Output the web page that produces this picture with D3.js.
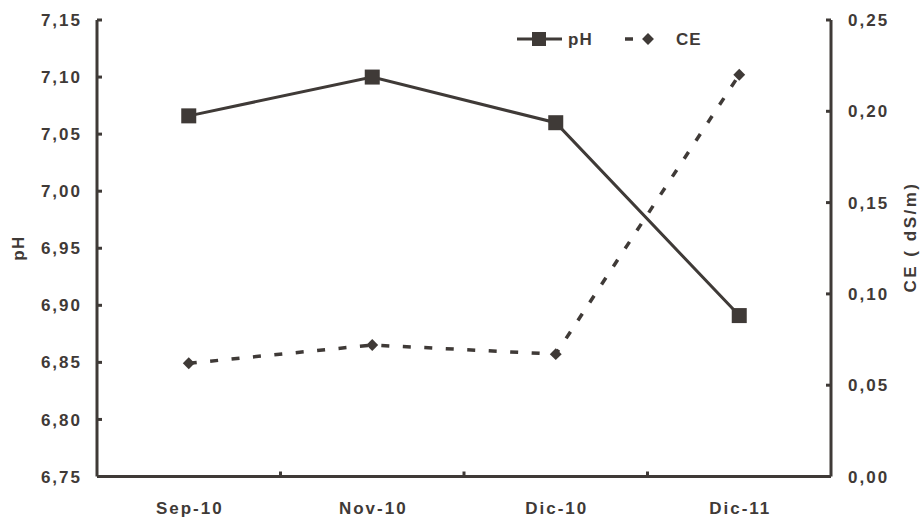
<!DOCTYPE html>
<html><head><meta charset="utf-8">
<script src="https://cdn.jsdelivr.net/npm/d3@7"></script>
<style>
body{margin:0;background:#fff;}
text{font-family:"Liberation Sans",Arial,sans-serif;font-weight:bold;fill:#3f3a37;}
</style></head><body>
<svg id="c" width="922" height="519"></svg>
<script>
const categories = ["Sep-10","Nov-10","Dic-10","Dic-11"];
const phValues = [7.066, 7.10, 7.060, 6.891];
const ceValues = [0.062, 0.072, 0.067, 0.220];
const phTicks = [6.75,6.80,6.85,6.90,6.95,7.00,7.05,7.10,7.15];
const ceTicks = [0,0.05,0.10,0.15,0.20,0.25];

const col = "#3f3a37";
const svg = d3.select("#c");
const L = 97, R = 831, T = 20, B = 476.5;
const x = d3.scaleBand().domain(categories).range([L,R]);
const yL = d3.scaleLinear().domain([6.75,7.15]).range([B,T]);
const yR = d3.scaleLinear().domain([0,0.25]).range([B,T]);
const fmt2 = d => d.toFixed(2).replace(".",",");

// left axis
const gl = svg.append("g").attr("transform",`translate(${L},0)`);
gl.append("line").attr("y1",T).attr("y2",B).attr("stroke",col).attr("stroke-width",3);
gl.selectAll("line.t").data(phTicks).join("line").attr("class","t")
  .attr("x1",0).attr("x2",5).attr("y1",d=>yL(d)).attr("y2",d=>yL(d)).attr("stroke",col).attr("stroke-width",3);
gl.selectAll("text").data(phTicks).join("text")
  .attr("x",-15).attr("y",d=>yL(d)).attr("dy","0.36em").attr("text-anchor","end")
  .style("font-size","17px").style("letter-spacing","2px").text(fmt2);

// right axis
const gr = svg.append("g").attr("transform",`translate(${R},0)`);
gr.append("line").attr("y1",T).attr("y2",B).attr("stroke",col).attr("stroke-width",3);
gr.selectAll("line.t").data(ceTicks).join("line").attr("class","t")
  .attr("x1",0).attr("x2",-5).attr("y1",d=>yR(d)).attr("y2",d=>yR(d)).attr("stroke",col).attr("stroke-width",3);
gr.selectAll("text").data(ceTicks).join("text")
  .attr("x",17).attr("y",d=>yR(d)).attr("dy","0.36em").attr("text-anchor","start")
  .style("font-size","17px").style("letter-spacing","2px").text(fmt2);

// bottom axis
const gb = svg.append("g").attr("transform",`translate(0,${B})`);
gb.append("line").attr("x1",L).attr("x2",R).attr("stroke",col).attr("stroke-width",3);
const bounds = categories.slice(1).map(c=>x(c));
gb.selectAll("line.t").data(bounds).join("line").attr("class","t")
  .attr("x1",d=>d).attr("x2",d=>d).attr("y1",0).attr("y2",-5).attr("stroke",col).attr("stroke-width",3);
gb.selectAll("text").data(categories).join("text")
  .attr("x",d=>x(d)+x.bandwidth()/2+1).attr("y",37).attr("text-anchor","middle")
  .style("font-size","17px").style("letter-spacing","2px").text(d=>d);

// axis titles
svg.append("text").attr("transform","translate(24,248) rotate(-90)").attr("text-anchor","middle")
  .style("font-size","17px").style("letter-spacing","1.5px").text("pH");
svg.append("text").attr("transform","translate(916,237) rotate(-90)").attr("text-anchor","middle")
  .style("font-size","17px").style("letter-spacing","2.5px").text("CE ( dS/m)");

const cx = d => x(d)+x.bandwidth()/2;

// CE line
svg.append("path").datum(categories.map((c,i)=>[cx(c),yR(ceValues[i])]))
  .attr("d",d3.line()).attr("fill","none").attr("stroke",col).attr("stroke-width",3.5)
  .attr("stroke-dasharray","8,13.5");
svg.selectAll("path.dia").data(categories).join("path").attr("class","dia")
  .attr("d",d3.symbol(d3.symbolDiamond2,90)())
  .attr("transform",(c,i)=>`translate(${cx(c)},${yR(ceValues[i])})`).attr("fill",col);

// pH line
svg.append("path").datum(categories.map((c,i)=>[cx(c),yL(phValues[i])]))
  .attr("d",d3.line()).attr("fill","none").attr("stroke",col).attr("stroke-width",3);
svg.selectAll("rect.sq").data(categories).join("rect").attr("class","sq")
  .attr("x",c=>cx(c)-7.5).attr("y",(c,i)=>yL(phValues[i])-7.5).attr("width",15).attr("height",15).attr("fill",col);

// legend
const ly = 39;
svg.append("line").attr("x1",517).attr("x2",562).attr("y1",ly).attr("y2",ly).attr("stroke",col).attr("stroke-width",3);
svg.append("rect").attr("x",532).attr("y",ly-7).attr("width",14).attr("height",14).attr("fill",col);
svg.append("text").attr("x",568).attr("y",ly).attr("dy","0.36em").style("font-size","17px").style("letter-spacing","1px").text("pH");
svg.append("line").attr("x1",625).attr("x2",633).attr("y1",ly).attr("y2",ly).attr("stroke",col).attr("stroke-width",3.5);
svg.append("path").attr("d",d3.symbol(d3.symbolDiamond2,90)()).attr("transform",`translate(648,${ly})`).attr("fill",col);
svg.append("text").attr("x",676).attr("y",ly).attr("dy","0.36em").style("font-size","17px").style("letter-spacing","1px").text("CE");
</script>
</body></html>
